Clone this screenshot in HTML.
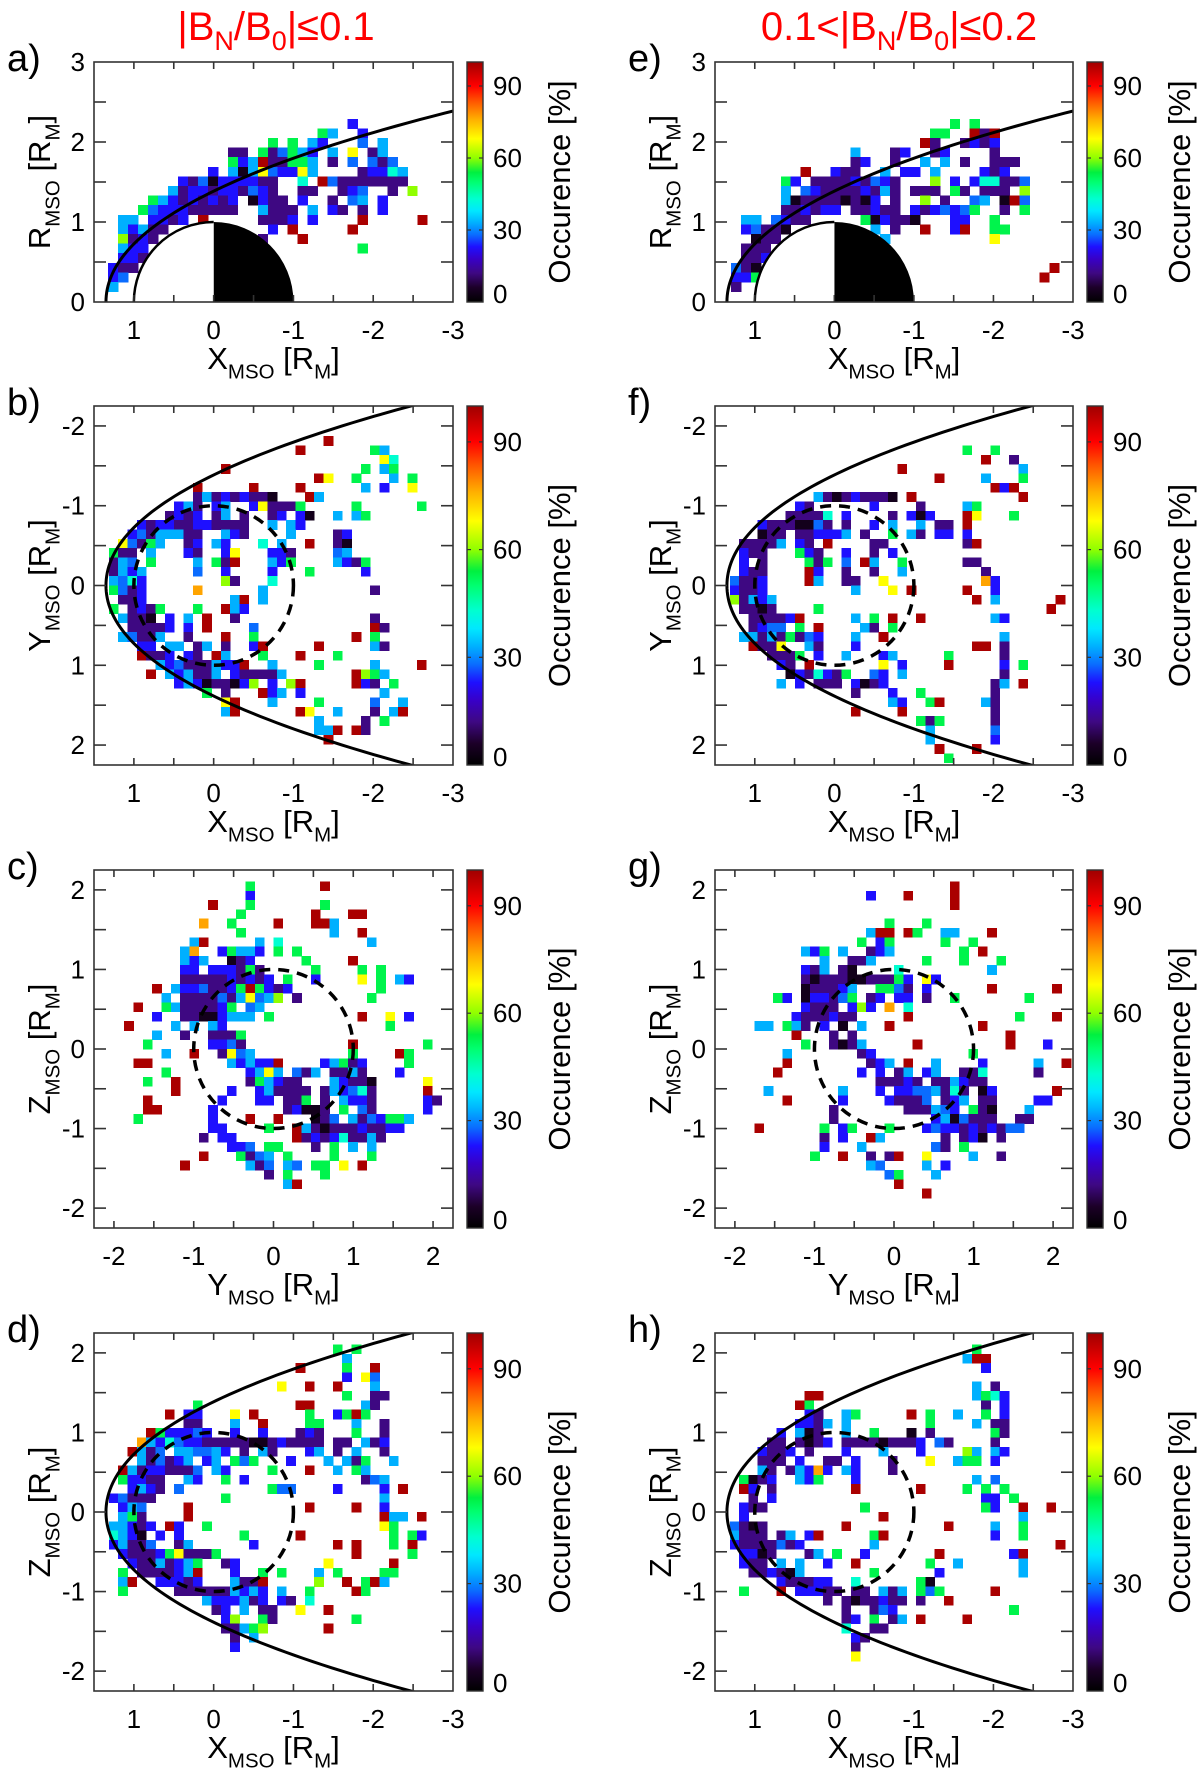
<!DOCTYPE html>
<html>
<head>
<meta charset="utf-8">
<style>
  html,body{margin:0;padding:0;background:#fff;}
  svg{display:block;}
  text{font-family:"Liberation Sans", Arial, sans-serif;fill:#000;}
</style>
</head>
<body>
<svg id="fig" xmlns="http://www.w3.org/2000/svg" width="1200" height="1774" viewBox="0 0 1200 1774">
  <defs id="defs"></defs>
</svg>
<script>
// ---------------- data ----------------
const levelChars  = ['k','p','b','B','c','t','g','y','Y','o','r'];
const levelValues = [4, 12, 23, 28, 33, 43, 53, 60, 68, 77, 99];
const colorbarTicks = [0, 30, 60, 90];
const ticksX = [1, 0.5, 0, -0.5, -1, -1.5, -2, -2.5];
const labelsX = [1, 0, -1, -2, -3];
const ticksR = [0.5, 1, 1.5, 2, 2.5];
const labelsR = [0, 1, 2, 3];
const ticksSym = [-2, -1.5, -1, -0.5, 0, 0.5, 1, 1.5, 2];
const labelsSym = [-2, -1, 0, 1, 2];

const rowsA = [
"........................b",
".....................gc..b",
"................g.g.cb...B.c",
"............pp.gpBgcb.c.Y.pc",
"............gbcrppggc.p.B.BpB",
"..........b.ckcYBbbYc....pbbtc",
".......bpBkbbbbpp..t.rBppppppp",
"......cpbbpbbpBbp..pp..pbB..p.y",
"....gcbpbpbpb.kbpp.b..p.Bc.b",
"...gBbbbppppp..cppp.c.bp.p.b",
".cc.bbpb.r.....pppb.b....r.....r",
".cbcpp..........b.r.....r",
".ypbp..........p...r",
".cbb.....................g",
".bbp",
"bpp",
"bB",
"c"
];
const rowsE = [
"......................g.g",
"....................gg..rpr",
"...................rp..pbpb",
"............c...pb..pb....p",
"............pb..p..c.c.p..ppp",
".......r..bpp..c.bb.c....bpb",
".....gb.ppppbpBbp...y.b.bttppB",
".....c.Bbppppbpcp.ppp.gp.ppp.y",
".....ckppppkpkb.p..y.p..Bc.krB",
".....ppbpbb.ppbpp.bpbBbBg..p.g",
".cc.Bbpp.....gkbppk...bb..g",
".bBppk........c.p..r..br..gg",
"..kpp..........c..........Y",
".ppp",
".ppb",
"Bpk.............................r",
"bbg............................r",
"p"
];
const rowsB = [
[-16,"23r"],[-15,"20r 28g 29c"],[-14,"29Y 30t"],[-13,"12r 27g 29c 30g"],
[-12,"22r 23Y 26g 30c 32g"],[-11,"9r 15r 20r 27c 29b 32Y"],
[-10,"9p 10c 11p 12b 13p 14b 15p 16p 17k 21r 22c"],
[-9,"7b 8c 9p 11b 12c 15b 16Y 17p 18p 19p 20g 26g 33g"],
[-8,"6p 7b 8p 9b 11p 12c 14p 17p 18b 20b 21k 24c 26c 27g"],
[-7,"3b 4p 5b 6b 7p 8p 9b 10b 11p 12p 13p 14p 17c 19c 20b"],
[-6,"2b 3B 4p 5c 6c 7c 8p 9p 12c 13b 14p 19c 24p 25b"],
[-5,"1Y 2B 3p 4g 5c 8p 9b 11c 12b 16t 18c 21r 24p 25k"],
[-4,"0g 1p 2p 4c 8b 9p 12b 13Y 17b 18b 19p 24B 25c"],
[-3,"0p 1c 2B 4g 9c 11g 12p 13r 17c 18b 19g 24c 25b 26p 27g"],
[-2,"0p 1c 2b 3c 9B 12b 17b 21g 27b"],
[-1,"0c 1B 2t 3b 12y 13p 17t"],
[0,"0g 1B 2p 3b 9o 16c 28p"],
[1,"1p 2p 3b 13c 14r 16c"],
[2,"0g 2p 3b 4p 5g 9g 12r 13c 14b"],
[3,"1c 2p 3p 4k 6b 8c 10r 13p 28p"],
[4,"2p 3p 4p 5p 6b 8b 10r 15B 28r 29p"],
[5,"1c 2B 3p 4p 5c 8p 12r 15g 26r 28g"],
[6,"3b 4b 6c 7c 9p 10c 12p 15b 16r 22r 28c 29p"],
[7,"3r 4p 5p 6b 8b 9p 11r 12c 16g 20r 24g"],
[8,"5c 6b 7B 8p 9p 10p 11c 12b 13b 14r 17c 22g 28c 33r"],
[9,"4r 6c 7b 8c 9p 10p 11c 13b 14p 15p 16p 17p 18c 26r 27y 28g 29c"],
[10,"7b 8c 9b 10k 11p 12p 13k 14b 15y 17b 19y 20r 26r 27b 28p 30g"],
[11,"10g 12p 16r 17b 18c 20b 29c"],
[12,"12Y 13r 17c 22g 28B 31c"],
[13,"12c 13r 20r 21Y 24c 28p 30c 31r"],
[14,"22c 27p 29g"],[15,"22c 23c 24r 26r 27p"],[16,"23r"]
];
const rowsC = [
[17,"-3g 5r"],[16,"-3b"],[15,"-7r -3g 5g"],[14,"-4g 4r 8r 9r"],
[13,"-8o -5g 0r 4r 5r 6c"],[12,"-4g 6c 9r"],[11,"-9c -8r -2c 0t 10c"],
[10,"-10c -9o -6b -5g -4c -3c -2b 0g 2g"],
[9,"-10c -9b -8c -5k -4p -3b 3g 8r"],
[8,"-10b -9b -7b -6b -5b -4p -3g -2p 4g 9g 11g"],
[7,"-10p -9p -8p -7p -6p -5b -4p -3b -2p -1b 1g 4b 9Y 11g 13c 14b"],
[6,"-13r -11c -10b -9b -8B -7p -6p -5b -4g -3r -2g -1b 0p 1b 11g"],
[5,"-12c -10p -9p -8p -7p -6B -5p -4c -3Y -2B -1c 0y 2p 10g"],
[4,"-15r -12g -11c -10p -9p -8p -7p -6b -5g -3B -2c"],
[3,"-13b -10p -9p -8k -7k -6b -5c -4c -3c -1g 9r 12Y 14b"],
[2,"-16r -11c -9c -7c -6b 12g"],
[1,"-13c -10p -7p -6p -5p -4g"],
[0,"-14g -7b -6b -5B -4p 8r 16g"],
[-1,"-12c -9r -6p -5Y -4B -3c 8g 13r 14g"],
[-2,"-15r -14r -5c -4b -3c -2b -1b 0r 5b 6c 7g 8p 9b 14g"],
[-3,"-12g -3b -2c -1Y 0c 2B 3p 4c 6p 7p 8c 9p 13b"],
[-4,"-14g -11r -3p -2g -1c 0b 1p 2p 6c 7b 8p 9p 10k 16Y"],
[-5,"-11r -5b -2b -1c 0p 1p 2p 3p 5p 6c 7b 8B 9t 10p 16r"],
[-6,"-14r -6b -2b -1b 1p 2p 3g 5p 7c 8b 9b 10p 16b 17p"],
[-7,"-14r -13r -7b 1p 2b 3k 4k 5p 7g 9B 10p 16b"],
[-8,"-15g -7b -3r 0r 4k 5p 6B 8c 9p 10B 11b 12g 13g 14c"],
[-9,"-7b -6b -1g 2r 3c 4p 5k 6p 7p 8p 9b 10p 11p 12b 13b"],
[-10,"-8p -6b -5b 2r 3p 4b 5p 6b 7t 8p 9p 10c 11p"],
[-11,"-5b -4b -3B -1g 0g 4p 6g 8c 10c"],
[-12,"-8r -4g -3p -2B -1c 1g 6g 10g"],
[-13,"-10r -3c -2p -1B 1c 2B 4g 5g 7Y 9r"],
[-14,"-1p 1g 5g"],[-15,"1c 2r"]
];
const rowsD = [
[17,"24g 26g"],[16,"25c"],[15,"20r 25g 28r"],[14,"25b 27Y 28B"],
[13,"18Y 21r 24r 28c"],[12,"25g 28p 29p"],[11,"9g 20r 21r 27c 28p"],
[10,"6r 8b 9b 13Y 15r 21g 24b 25g 26r 27g"],
[9,"8p 9p 13c 16r 21g 22g 26c 29p"],
[8,"4r 5g 6b 7b 8b 9B 10b 13b 16b 20p 21b 22p 26g 29p"],
[7,"3o 4c 5b 6t 7B 8b 9b 10p 11p 12p 13p 14p 15k 16k 17p 18b 19p 20p 21p 22p 24p 25p 27c 28p 29b"],
[6,"2r 3c 4p 5B 7c 8c 9B 10B 11c 12b 14p 16c 17p 21b 22c 24p 26c 29p"],
[5,"3c 4p 5B 6p 7b 8c 10b 11c 13g 14B 15g 19b 23c 25c 26p 27g 30c"],
[4,"1r 2c 3p 4b 5b 6p 7p 8p 9B 11c 12b 17g 21r 24c 26g 27c"],
[3,"1g 2b 3b 4p 5p 8c 9b 12g 14b 27p 28B 29c"],
[2,"2b 3c 4b 5p 7B 17g 18B 19B 24b 29b 31r"],
[1,"0b 1B 2p 3p 4p 12g 29c"],
[0,"1b 2c 3B 8r 21r 26r 29b"],
[-1,"1c 2g 3p 8r 29r 30c 31c 33r"],
[-2,"0c 1c 2b 3p 4b 6r 7b 10g 29Y 30g"],
[-3,"0t 1c 2b 3k 5b 7b 14g 20r 30g 32g 33b"],
[-4,"0b 1c 2p 3p 4B 7p 8c 15b 24r 26r 30g 32r"],
[-5,"1b 2p 3p 4p 5b 6g 7Y 8p 9p 10p 11g 26r 32g"],
[-6,"2b 3p 4p 5c 6p 7b 8c 9g 12p 13b 23Y 30r"],
[-7,"1g 3p 4p 5p 6p 7b 8c 9r 13b 16g 18g 22c 24g 29g 30g"],
[-8,"1c 2r 5b 6b 7b 8p 9b 13c 14p 15p 16r 22y 25r 27g 28r 29c"],
[-9,"1g 7p 8p 9p 10p 11p 12p 13c 14b 15c 16b 18c 21g 26r 27g"],
[-10,"10c 11b 12b 13b 14c 15p 16b 18b 19p 21t"],
[-11,"11p 12b 14c 16p 17p 20Y 23r"],
[-12,"12b 13y 16g 17p 26g"],
[-13,"12p 13p 14c 15g 16y 23r"],
[-14,"13p 15c"],[-15,"13b"]
];
const rowsF = [
[-15,"25g 28g"],[-14,"27r 30p"],[-13,"18r 31c"],[-12,"22r 27c 31g"],[-11,"28r 29b 30r"],
[-10,"9c 10p 11k 12p 13b 14p 15p 16p 17k 19r 31r"],
[-9,"7b 8p 15b 20p 25c 26g"],
[-8,"6p 7p 8p 9p 10t 12b 17p 19b 20k 21b 25r 26Y 30g"],
[-7,"3b 4p 5p 6p 7k 8k 9B 10p 12p 15b 17c 20c 22p 23p 25r"],
[-6,"3k 4p 5p 7p 8p 9b 10b 11b 12c 14p 17g 19c 20p 22b 23b 25b"],
[-5,"1p 2p 3p 4p 5c 7b 8p 10r 15p 16p 25p 26r"],
[-4,"1b 2p 3p 7g 8b 9p 12b 15p 17b"],
[-3,"1b 3p 8g 9p 10g 12B 14r 15c 18g 25p 26p"],
[-2,"1b 2p 3p 8r 9b 12p 15p 18c 27p"],
[-1,"0B 1p 2p 3b 8r 9c 12p 13p 16Y 27o 28b"],
[0,"0b 1p 2p 3b 13c 17Y 19r 25r 28b"],
[1,"0y 1p 2c 3b 4c 26r 28c 35r"],
[2,"1p 2p 3k 4p 9g 34r"],
[3,"2p 3p 4p 5p 6b 7r 13c 15g 17r 20r 28c 29b"],
[4,"2p 3b 4B 5B 7g 9r 14c 15p 17g"],
[5,"1c 2c 3p 4c 5p 6g 7p 8B 9b 13c 16r 29c"],
[6,"2r 3p 4p 5Y 8c 9p 13b 26r 27r 29p"],
[7,"4p 5p 6p 7g 9b 12c 16b 17c 23g 29p"],
[8,"5b 6p 8r 16Y 18b 23r 29b 31g"],
[9,"6k 7b 8p 9t 10b 11p 12g 15B 16b 18c 29p"],
[10,"5c 7b 9p 10p 11p 13b 14k 15p 16b 28p 29c 31r"],
[11,"13p 17b 20g 28p"],[12,"17c 18b 21g 22r 27c 28p"],[13,"13r 18r 28p"],
[14,"20g 21p 22g 28p"],[15,"21c 28B"],[16,"21c 28b"],[17,"22r 26r"],[18,"23g"]
];
const rowsG = [
[17,"6r"],[16,"-3b 1r 6r"],[15,"6r"],[13,"-1g 3g"],
[12,"-3c -2r -1r 1r 2g 5c 6c 10r"],[11,"-4g -2b -1g 5g 8g"],
[10,"-10c -9b -8g -6c -3p -2b -1c 7g 9r"],
[9,"-8c -5p -4p -3c 3g 7g 11g"],
[8,"-10b -9p -8c -6p -5k 0t 10c"],
[7,"-10p -9k -8p -7p -6p -5k -4k -3p -2p -1p 0g 1b 3Y 4b"],
[6,"-10k -9p -8p -7p -6b -5c -2g -1g 0B 1p 3b 10r 17r"],
[5,"-13g -12b -10k -9b -8b -7p -6B -5g -3p -2b 0b 1b 3p 6g 14g"],
[4,"-10b -9p -8p -7p -5b -4y -3b -1o 1t"],
[3,"-11b -10p -9p -8p -7b -6p -5p 1r 13g 17r"],
[2,"-15c -14c -12g -11c -10p -8b -6k -4c -1r 9r"],
[1,"-11r -7p -5p 12r"],
[0,"-10g -7p -6k -5p -4c 2r 12r 16b"],
[-1,"-12c -4p -3b 8g"],
[-2,"-12r -3p -2b -1c 1r 4c 9b 15c 18r"],
[-3,"-13r -4b -2b 0p 1c 3b 4c 7p 8p 9t 15p"],
[-4,"-2p -1p 0p 1b 2p 4p 5p 6c 7b 8p 9p"],
[-5,"-14c -6c -2b 0b 1b 2B 3B 4c 5p 6t 7p 9k 10b 17r"],
[-6,"-12r -6b -1b 0p 1p 2p 3B 5p 6b 7c 9p 10p 15b 16b"],
[-7,"-7p 1p 2p 3p 4c 5B 6b 8g 9p 10k 14c"],
[-8,"-7p 4b 5c 6k 7B 8p 9p 10p 13p 14p"],
[-9,"-15r -8g -6b -5g -1g 3b 4B 5b 6b 7p 8b 9p 10b 11p 12B 13B"],
[-10,"-8p -6b -3r -2c 5p 7p 8b 9k 11p"],
[-11,"-8b -4c 4B 5p 7g"],
[-12,"-9g -6r -3p -1p 0r 3Y 8c 11p"],
[-13,"-3c -2B 3c 5b"],[-14,"-1B 0g 4c"],[-15,"0r"],[-16,"3r"]
];
const rowsH = [
[17,"26g"],[16,"25c 26r 27r"],[15,"27b"],[13,"26c 28p"],
[12,"8r 9r 26c 27g 28t 29b"],[11,"7r 8g 27p 29b"],
[10,"8b 9p 12c 13g 19r 21g 24c 27g 29b"],
[9,"7b 8b 9p 10c 12c 21g 26c 28p 29p"],
[8,"5b 7c 8k 9p 12c 15g 19k 21p 28g 29p"],
[7,"4p 5p 7p 8k 9p 10b 12p 13p 14p 15p 16k 17p 18p 19p 20b 22B 23p 28p"],
[6,"3b 4p 5p 6b 8p 12b 16c 20b 25y 26c 28c 29b"],
[5,"3p 4p 5p 7b 10p 11p 13b 17p 21Y 24c 25g 26g 28b"],
[4,"3c 4p 6p 7c 8b 9o 10b 12c 13b 17p"],
[3,"1g 2k 3p 4b 7c 8b 9g 13b 26c 28B"],
[2,"1r 2b 4p 13r 20r 25g 27g 29g"],
[1,"2p 4b 27b 28b 30g"],
[0,"1b 2p 3p 14g 27g 28b 31r 34r"],
[-1,"1b 16r 31c"],
[-2,"0B 1p 2k 3p 12r 23r 28c 31g"],
[-3,"0c 1p 2p 3p 5p 6c 8b 9r 15g 16r 28b 31g"],
[-4,"0b 1p 2p 3p 4p 5B 6p 7b 15c 35r"],
[-5,"1b 2b 3k 4p 8p 9c 11g 14b 22r 30b 31r"],
[-6,"1b 2p 3p 5c 7c 10b 13r 21g 24c 31c"],
[-7,"2p 3p 4b 5p 6k 7c 15g 22b 31c"],
[-8,"5b 6p 7p 8p 9b 10b 13t 20g 21k"],
[-9,"1g 5r 7b 8b 9b 10p 11p 13p 14p 16c 17p 18c 20g 21B 22g 28r"],
[-10,"10p 12p 13k 14p 15p 16b 17p 18p 20p 23r"],
[-11,"12p 15p 16B 17b 30g"],
[-12,"12p 13b 15g 17p 18c 20r 25r"],
[-13,"12t 15p 16p"],[-14,"13b 14p"],[-15,"13p"],[-16,"13Y"]
];

// ---------------- rendering ----------------
const NS = "http://www.w3.org/2000/svg";
const svg = document.getElementById('fig');
const defs = document.getElementById('defs');
function mk(tag, attrs, parent){
  const e = document.createElementNS(NS, tag);
  for (const k in attrs) e.setAttribute(k, attrs[k]);
  (parent || svg).appendChild(e);
  return e;
}
const cmap = [[0,[0,0,0]],[6,[28,0,40]],[12,[62,8,130]],[18,[56,0,200]],[23,[30,16,255]],
  [28,[10,108,255]],[33,[0,176,255]],[38,[0,232,255]],[43,[0,255,208]],[50,[0,255,112]],
  [54,[0,240,64]],[60,[144,255,0]],[68,[255,255,0]],[76,[255,176,0]],[84,[255,80,0]],
  [90,[255,0,0]],[100,[160,0,0]]];
function color(v){
  for (let i=1;i<cmap.length;i++){
    if (v<=cmap[i][0]){
      const a=cmap[i-1], b=cmap[i], t=(v-a[0])/(b[0]-a[0]);
      const c=a[1].map((x,j)=>Math.round(x+(b[1][j]-x)*t));
      return `rgb(${c[0]},${c[1]},${c[2]})`;
    }
  }
  return 'rgb(160,0,0)';
}
function charValue(ch){ return levelValues[levelChars.indexOf(ch)]; }

const grad = mk('linearGradient',{id:'cbgrad',x1:'0',y1:'1',x2:'0',y2:'0'},defs);
cmap.forEach(s=>mk('stop',{offset:(s[0]/100),'stop-color':color(s[0])},grad));

function parseStrings(rows){
  const out=[];
  rows.forEach((s,i)=>{ for(let k=0;k<s.length;k++){ if(s[k]!=='.') out.push({k:k,m:i,v:charValue(s[k])}); } });
  return out;
}
function parseTokens(rows){
  const out=[];
  rows.forEach(([m,s])=>s.trim().split(/\s+/).forEach(t=>{
    const mm=t.match(/^(-?\d+)([A-Za-z])$/);
    if(mm) out.push({k:+mm[1],m:m,v:charValue(mm[2])});
  }));
  return out;
}
const FONT='"Liberation Sans", Arial, sans-serif';
function subText(parent, x, y, parts, size, attrs){
  const t = mk('text', Object.assign({x:x,y:y,'font-size':size,'font-family':FONT}, attrs||{}), parent);
  let sub=false;
  parts.forEach(([s,isSub])=>{
    const ts = mk('tspan',{},t);
    if(isSub && !sub){ ts.setAttribute('dy', size*0.3); ts.setAttribute('font-size', size*0.66); }
    else if(!isSub && sub){ ts.setAttribute('dy', -size*0.3); }
    else if(isSub){ ts.setAttribute('font-size', size*0.66); }
    ts.textContent=s; sub=isSub;
  });
  return t;
}
function bowX(r){ return 1.35 - 0.62*r*r - 0.06*r*r*r; }

function drawPanel(id, g, cells, cellGeom, o){
  const grp = mk('g',{});
  
  
  const sx = v => g.L + (v-g.xL)/(g.xR-g.xL)*(g.R-g.L);
  const sy = v => g.T + (v-g.yT)/(g.yB-g.yT)*(g.B-g.T);
  const cp = mk('clipPath',{id:'clip-'+id},defs);
  mk('rect',{x:g.L,y:g.T,width:g.R-g.L,height:g.B-g.T},cp);
  const plot = mk('g',{'clip-path':'url(#clip-'+id+')'},grp);
  
  
  const cg = mk('g',{'shape-rendering':'crispEdges'},plot);
  
  
  cells.forEach(c=>{
    const b = cellGeom(c.k,c.m);
    const x0=sx(b[0]), x1=sx(b[1]), y0=sy(b[2]), y1=sy(b[3]);
    const r = mk('rect',{x:Math.min(x0,x1).toFixed(2),y:Math.min(y0,y1).toFixed(2),
      width:(Math.abs(x1-x0)+0.4).toFixed(2),height:(Math.abs(y1-y0)+0.4).toFixed(2),fill:color(c.v)},cg);
    
    
  });
  if(o.mercury){
    const night = mk('path',{d:`M${sx(0)},${sy(0)} L${sx(0)},${sy(1)} A${sx(0)-sx(1)},${sy(0)-sy(1)} 0 0 1 ${sx(-1)},${sy(0)} Z`,fill:'#000'},plot);
    
    
    const day = mk('path',{d:`M${sx(1)},${sy(0)} A${sx(0)-sx(1)},${sy(0)-sy(1)} 0 0 1 ${sx(0)},${sy(1)} L${sx(0)},${sy(0)} Z`,fill:'#fff',stroke:'none'},plot);
    
    
    const arc = mk('path',{d:`M${sx(1)},${sy(0)+2} A${sx(0)-sx(1)},${sy(0)-sy(1)} 0 0 1 ${sx(0)},${sy(1)}`,fill:'none',stroke:'#000','stroke-width':2.5},plot);
    
    
  }
  if(o.circle){
    const c = mk('ellipse',{cx:sx(0),cy:sy(0),rx:Math.abs(sx(1)-sx(0)),ry:Math.abs(sy(1)-sy(0)),fill:'none',stroke:'#000','stroke-width':3.5,'stroke-dasharray':'11 8'},plot);
    
    
  }
  if(o.bow){
    const pts=[];
    const rMin = o.bow==='half'?0:-2.8;
    for(let r=rMin;r<=2.8001;r+=0.04){ pts.push(sx(bowX(Math.abs(r))).toFixed(2)+','+sy(r).toFixed(2)); }
    const pl = mk('polyline',{points:pts.join(' '),fill:'none',stroke:'#000','stroke-width':3},plot);
    
    
  }
  const fr = mk('rect',{x:g.L,y:g.T,width:g.R-g.L,height:g.B-g.T,fill:'none',stroke:'#333','stroke-width':1.6},grp);
  
  
  const tk = mk('g',{stroke:'#333','stroke-width':1.6},grp);
  
  
  o.xt.forEach(v=>{ const x=sx(v);
    mk('line',{x1:x,y1:g.B,x2:x,y2:g.B-7},tk); mk('line',{x1:x,y1:g.T,x2:x,y2:g.T+7},tk); });
  o.yt.forEach(v=>{ const y=sy(v);
    mk('line',{x1:g.L,y1:y,x2:g.L+12,y2:y},tk); mk('line',{x1:g.R,y1:y,x2:g.R-12,y2:y},tk); });
  o.xl.forEach(v=>{
    const t = mk('text',{x:sx(v),y:g.B+37,'text-anchor':'middle','font-size':26,'font-family':FONT},grp);
    t.textContent = String(v);
    
    
  });
  o.yl.forEach(v=>{
    const t = mk('text',{x:g.L-9,y:sy(v)+9,'text-anchor':'end','font-size':26,'font-family':FONT},grp);
    t.textContent = String(v);
    
    
  });
  const cx = (g.L+g.R)/2;
  const xt = subText(grp, cx, g.B+67, [[o.xName,false],['MSO',true],[' [R',false],['M',true],[']',false]], 31, {'text-anchor':'middle'});
  
  
  const cy = (g.T+g.B)/2, yx = g.L-44;
  const yt = subText(grp, yx, cy, [[o.yName,false],['MSO',true],[' [R',false],['M',true],[']',false]], 31, {'text-anchor':'middle',transform:`rotate(-90 ${yx} ${cy})`});
  
  
  const lt = mk('text',{x:g.L-87,y:g.T+9,'font-size':38,'font-family':FONT},grp);
  lt.textContent = id+')';
  
  
  const cbx = g.R+14, cbw=16;
  const cb = mk('rect',{x:cbx,y:g.T,width:cbw,height:g.B-g.T,fill:'url(#cbgrad)',stroke:'#333','stroke-width':1.4},grp);
  
  
  const cbY = v => g.B - v/100*(g.B-g.T);
  colorbarTicks.forEach(v=>{
    const y=cbY(v);
    if(v>0){
      mk('line',{x1:cbx,y1:y,x2:cbx+4,y2:y,stroke:'#333','stroke-width':1.2},grp);
      mk('line',{x1:cbx+cbw,y1:y,x2:cbx+cbw-4,y2:y,stroke:'#333','stroke-width':1.2},grp);
    }
    const t = mk('text',{x:cbx+cbw+10,y:Math.min(y+9,g.B+1),'font-size':26,'font-family':FONT},grp);
    t.textContent=String(v);
    
    
  });
  const ctx = g.R+117, cty=(g.T+g.B)/2;
  const ctl = mk('text',{x:ctx,y:cty,'text-anchor':'middle','font-size':31,'font-family':FONT,transform:`rotate(-90 ${ctx} ${cty})`},grp);
  ctl.textContent='Occurence [%]';
  
  
}

const L = {L:94, R:453}, Rc = {L:715, R:1073};
const rowY = [[62,302],[406,765],[870,1228],[1333,1691]];
const geomXR = (col, r) => ({L:col.L,R:col.R,T:rowY[r][0],B:rowY[r][1],xL:1.5,xR:-3,yT:3,yB:0});
const geomXY = (col, r) => ({L:col.L,R:col.R,T:rowY[r][0],B:rowY[r][1],xL:1.5,xR:-3,yT:-2.25,yB:2.25});
const geomYZ = (col, r) => ({L:col.L,R:col.R,T:rowY[r][0],B:rowY[r][1],xL:-2.25,xR:2.25,yT:2.25,yB:-2.25});
const geomXZ = (col, r) => ({L:col.L,R:col.R,T:rowY[r][0],B:rowY[r][1],xL:1.5,xR:-3,yT:2.25,yB:-2.25});

const D = 0.117;
const cellA = (k,i)=>[1.322-0.125*k, 1.197-0.125*k, 2.29-0.12*i, 2.17-0.12*i];
const cellE = (k,i)=>[1.298-0.125*k, 1.173-0.125*k, 2.29-0.12*i, 2.17-0.12*i];
const cellXM = (k,m)=>[1.314-D*k, 1.314-D*(k+1), D*m, D*(m+1)];
const cellYZ = (k,m)=>[D*k, D*(k+1), D*m, D*(m+1)];

const optXR = {xt:ticksX,yt:ticksR,xl:labelsX,yl:labelsR,xName:'X',yName:'R',mercury:true,bow:'half'};
const optXY = {xt:ticksX,yt:ticksSym,xl:labelsX,yl:labelsSym,xName:'X',yName:'Y',circle:true,bow:'full'};
const optYZ = {xt:ticksSym,yt:ticksSym,xl:labelsSym,yl:labelsSym,xName:'Y',yName:'Z',circle:true};
const optXZ = {xt:ticksX,yt:ticksSym,xl:labelsX,yl:labelsSym,xName:'X',yName:'Z',circle:true,bow:'full'};

drawPanel('a', geomXR(L,0), parseStrings(rowsA), cellA, optXR);
drawPanel('b', geomXY(L,1), parseTokens(rowsB), cellXM, optXY);
drawPanel('c', geomYZ(L,2), parseTokens(rowsC), cellYZ, optYZ);
drawPanel('d', geomXZ(L,3), parseTokens(rowsD), cellXM, optXZ);
drawPanel('e', geomXR(Rc,0), parseStrings(rowsE), cellE, optXR);
drawPanel('f', geomXY(Rc,1), parseTokens(rowsF), cellXM, optXY);
drawPanel('g', geomYZ(Rc,2), parseTokens(rowsG), cellYZ, optYZ);
drawPanel('h', geomXZ(Rc,3), parseTokens(rowsH), cellXM, optXZ);

function title(x, parts, name){
  const t = mk('text',{x:x,y:40,'text-anchor':'middle','font-size':40,'font-family':FONT,fill:'#ff0000'});
  let sub=false;
  parts.forEach(([s,isSub])=>{
    const ts = mk('tspan',{fill:'#ff0000'},t);
    if(isSub){ ts.setAttribute('font-size',27); if(!sub) ts.setAttribute('dy',10); }
    else if(sub){ ts.setAttribute('dy',-10); }
    ts.textContent=s; sub=isSub;
  });
  
  
}
title(276, [['|B',false],['N',true],['/B',false],['0',true],['|≤0.1',false]], 'column-title-left');
title(899, [['0.1<|B',false],['N',true],['/B',false],['0',true],['|≤0.2',false]], 'column-title-right');
</script>
</body>
</html>
